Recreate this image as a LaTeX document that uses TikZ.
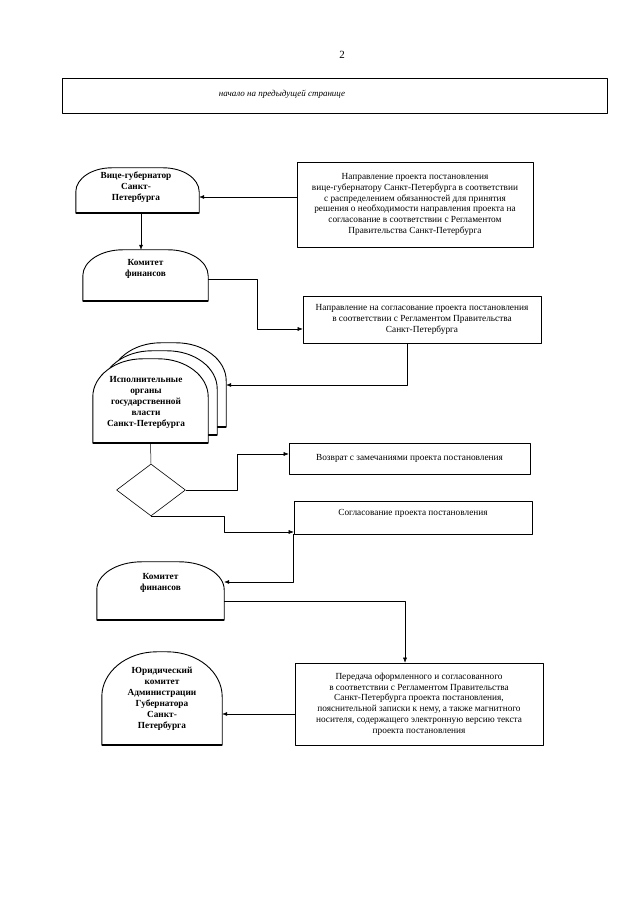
\documentclass[tikz,border=0pt]{standalone}
\usepackage{fontspec}
\setmainfont{Liberation Serif}
\usetikzlibrary{shapes.geometric,calc,arrows.meta}
% dome outline round a named node: #1 node, #2 x radius, #3 y radius
\newcommand{\domeframe}[3]{%
  \filldraw[line width=.9pt,fill=white] (#1.south west)
    -- ($(#1.north west)+(0,-#3)$) arc[start angle=180,end angle=90,x radius=#2,y radius=#3]
    -- ($(#1.north east)+(-#2,0)$) arc[start angle=90,end angle=0,x radius=#2,y radius=#3]
    -- (#1.south east) -- cycle;
  \draw[line width=1.4pt] (#1.south west) -- (#1.south east);}
\begin{document}
\begin{tikzpicture}[x=1pt,y=1pt,>={Latex[length=5pt,width=4pt]},line join=round,
    textbox/.style={draw,line width=.6pt,inner sep=2pt,align=center,font=\fontsize{9.3}{10.8}\selectfont},
    dome/.style={inner sep=0pt},
    domelabel/.style={align=center,font=\bfseries\fontsize{9.3}{11}\selectfont},
    link/.style={->,line width=.5pt}]
  \useasboundingbox (0,0) rectangle (640,905);
  \node[font=\fontsize{11}{13}\selectfont] (pageno) at (342,850) {2};
  \node[draw,line width=.6pt,minimum width=545,minimum height=35] (start) at (334.5,809.5) {};
  \node[font=\itshape\fontsize{9}{10}\selectfont] (starttext) at (282,811) {начало на предыдущей странице};
  % left column
  \node[dome,minimum width=123,minimum height=45] (vicegov) at (137.5,714.5) {};
  \domeframe{vicegov}{36}{24}
  \node[domelabel] (vicegovtext) at (136,718) {Вице-губернатор\\Санкт-\\Петербурга};
  \node[dome,minimum width=125,minimum height=51] (fincom) at (145.5,629.5) {};
  \domeframe{fincom}{40}{26}
  \node[domelabel] (fincomtext) at (145.5,636) {Комитет\\финансов};
  \node[dome,minimum width=115,minimum height=84] (execback) at (168.5,520) {};
  \node[dome,minimum width=115,minimum height=84] (execmid) at (159.5,512) {};
  \node[dome,minimum width=115,minimum height=84] (exec) at (150.5,504) {};
  \domeframe{execback}{50}{38}
  \domeframe{execmid}{50}{38}
  \domeframe{exec}{50}{38}
  \node[domelabel] (exectext) at (146,503) {Исполнительные\\органы\\государственной\\власти\\Санкт-Петербурга};
  \node[draw,diamond,line width=.6pt,inner sep=0pt,minimum width=69,minimum height=52] (decision) at (151,415) {};
  \node[dome,minimum width=127,minimum height=58] (fincomb) at (160.5,314) {};
  \domeframe{fincomb}{45}{28}
  \node[domelabel] (fincombtext) at (160.5,322) {Комитет\\финансов};
  \node[dome,minimum width=120,minimum height=93] (legal) at (162,206.5) {};
  \domeframe{legal}{55}{45}
  \node[domelabel] (legaltext) at (162,206) {Юридический\\комитет\\Администрации\\Губернатора\\Санкт-\\Петербурга};
  % right column
  \node[textbox,minimum width=236,minimum height=85] (directive) at (415,700.5)
    {Направление проекта постановления\\вице-губернатору Санкт-Петербурга в соответствии\\с распределением обязанностей для принятия\\решения о необходимости направления проекта на\\согласование в соответствии с Регламентом\\Правительства Санкт-Петербурга};
  \node[textbox,minimum width=238,minimum height=47] (agree) at (422,585.5)
    {Направление на согласование проекта постановления\\в соответствии с Регламентом Правительства\\Санкт-Петербурга};
  \node[textbox,minimum width=241,minimum height=31] (return) at (409.5,446.5)
    {Возврат с замечаниями проекта постановления};
  \node[textbox,minimum width=238,minimum height=33,text depth=10pt] (agreed) at (413,387.5)
    {Согласование проекта постановления};
  \node[textbox,minimum width=248,minimum height=82] (transfer) at (419,201)
    {Передача оформленного и согласованного\\в соответствии с Регламентом Правительства\\Санкт-Петербурга проекта постановления,\\пояснительной записки к нему, а также магнитного\\носителя, содержащего электронную версию текста\\проекта постановления};
  % connectors
  \draw[link] (directive.west |- 0,708) -- (vicegov.east |- 0,708);
  \draw[link] (141,0 |- vicegov.south) -- (141,0 |- fincom.north);
  \draw[link] (fincom.east |- 0,626) -- (257,626) -- (257,576) -- (agree.west |- 0,576);
  \draw[link] (agree.south -| 407,0) |- (execback.east);
  \draw[line width=.5pt] (exec.south) -- (decision.north);
  \draw[link] (decision.east) -| (237,451) -- (return.west |- 0,451);
  \draw[link] (decision.south) -| (224,373) -- (agreed.west |- 0,373);
  \draw[link] (agreed.south west) |- (fincomb.east |- 0,323);
  \draw[link] (fincomb.east |- 0,304) -| (transfer.north -| 405,0);
  \draw[link] (transfer.west |- 0,191) -- (legal.east |- 0,191);
\end{tikzpicture}
\end{document}
